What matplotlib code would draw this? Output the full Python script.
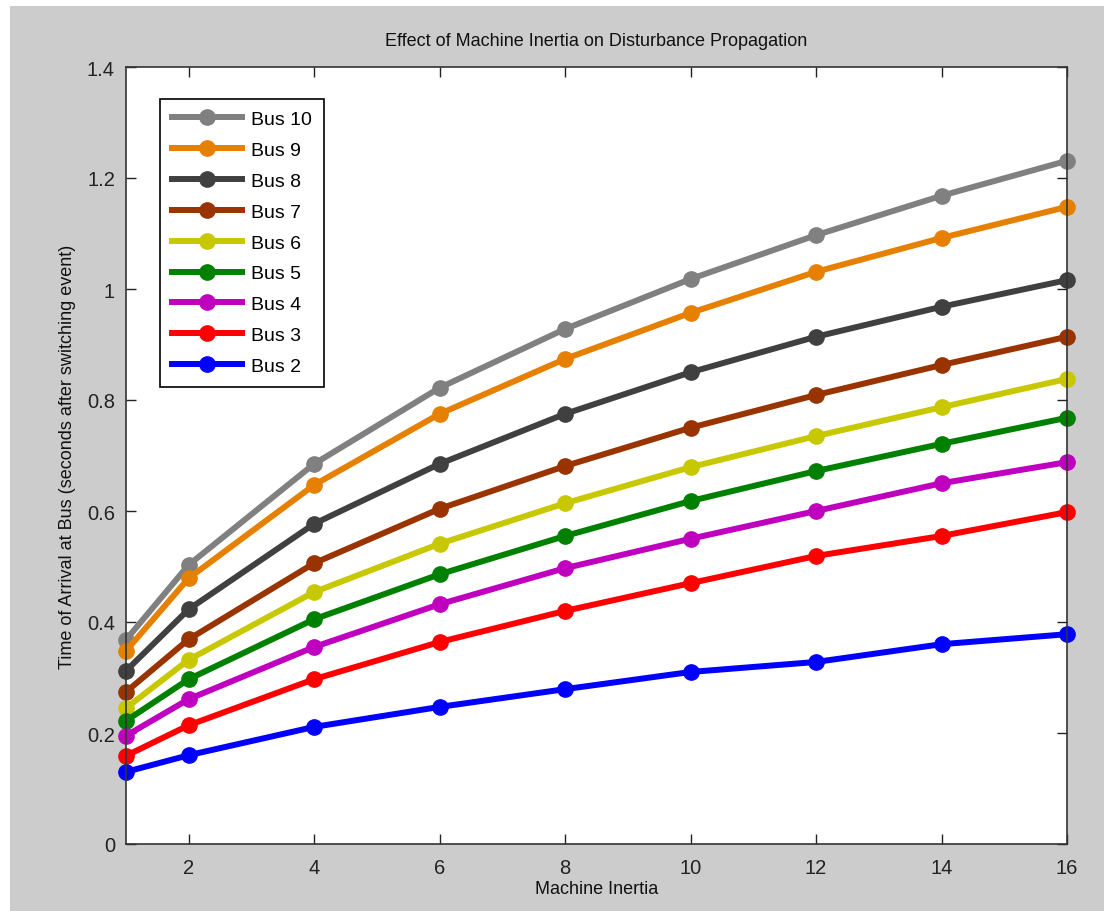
import matplotlib
matplotlib.use("Agg")
import matplotlib.pyplot as plt
from matplotlib.patches import Rectangle

plt.rcParams['font.family'] = ['Liberation Sans', 'DejaVu Sans']

inertia = [1, 2, 4, 6, 8, 10, 12, 14, 16]
labels = ["Bus 10", "Bus 9", "Bus 8", "Bus 7", "Bus 6", "Bus 5", "Bus 4", "Bus 3", "Bus 2"]
bus10 = [0.368, 0.503, 0.685, 0.822, 0.928, 1.018, 1.097, 1.168, 1.231]
bus9 = [0.348, 0.479, 0.647, 0.775, 0.874, 0.957, 1.031, 1.092, 1.148]
bus8 = [0.312, 0.423, 0.577, 0.685, 0.775, 0.850, 0.914, 0.968, 1.016]
bus7 = [0.274, 0.369, 0.506, 0.604, 0.681, 0.750, 0.809, 0.863, 0.914]
bus6 = [0.245, 0.332, 0.454, 0.541, 0.614, 0.679, 0.735, 0.787, 0.838]
bus5 = [0.222, 0.297, 0.405, 0.486, 0.555, 0.618, 0.672, 0.721, 0.768]
bus4 = [0.195, 0.261, 0.355, 0.432, 0.497, 0.550, 0.600, 0.650, 0.688]
bus3 = [0.159, 0.214, 0.297, 0.364, 0.420, 0.470, 0.519, 0.555, 0.598]
bus2 = [0.130, 0.160, 0.211, 0.247, 0.279, 0.310, 0.328, 0.360, 0.378]
series = [bus10, bus9, bus8, bus7, bus6, bus5, bus4, bus3, bus2]
colors = ["#808080", "#e68000", "#404040", "#993300", "#c8c800",
          "#008000", "#bf00bf", "#ff0000", "#0000ff"]

W, H = 1104, 912
fig = plt.figure(figsize=(W / 100, H / 100), dpi=100, facecolor="white")
fig.patches.append(Rectangle((10 / W, 0), 1 - 10 / W, 1 - 7 / H,
                             transform=fig.transFigure, facecolor="#cccccc",
                             edgecolor="none", zorder=-10))

ax = fig.add_axes([126 / W, 1 - 845 / H, (1067 - 126) / W, (845 - 68) / H])
ax.set_facecolor("white")

for vals, col, lab in zip(series, colors, labels):
    ax.plot(inertia, vals, color=col, lw=4.3, marker="o", markersize=11,
            label=lab, clip_on=False)

ax.set_xlim(1, 16)
ax.set_ylim(0, 1.4)
ax.set_xticks([2, 4, 6, 8, 10, 12, 14, 16])
ax.set_yticks([0, 0.2, 0.4, 0.6, 0.8, 1.0, 1.2, 1.4])
ax.set_yticklabels(["0", "0.2", "0.4", "0.6", "0.8", "1", "1.2", "1.4"])
ax.tick_params(direction="in", top=True, right=True, length=7, width=1,
               labelsize=14.5, pad=8, colors="#222222")
ax.tick_params(axis="x", pad=10)
for s in ax.spines.values():
    s.set_color("#333333")
    s.set_linewidth(1.2)

ax.set_title("Effect of Machine Inertia on Disturbance Propagation",
             fontsize=13, pad=16, color="#111111")
ax.set_xlabel("Machine Inertia", fontsize=13, labelpad=2, color="#111111")
ax.set_ylabel("Time of Arrival at Bus (seconds after switching event)",
              fontsize=13, labelpad=8, color="#111111")

leg = ax.legend(loc="upper left", bbox_to_anchor=(34 / 941, 1 - 32 / 777),
                borderaxespad=0, fontsize=14, frameon=True, fancybox=False,
                framealpha=1, edgecolor="black", handlelength=3.6,
                borderpad=0.6, labelspacing=0.68, handletextpad=0.5)
leg.get_frame().set_linewidth(1.2)

fig.savefig("out.png", dpi=100, facecolor=fig.get_facecolor())
